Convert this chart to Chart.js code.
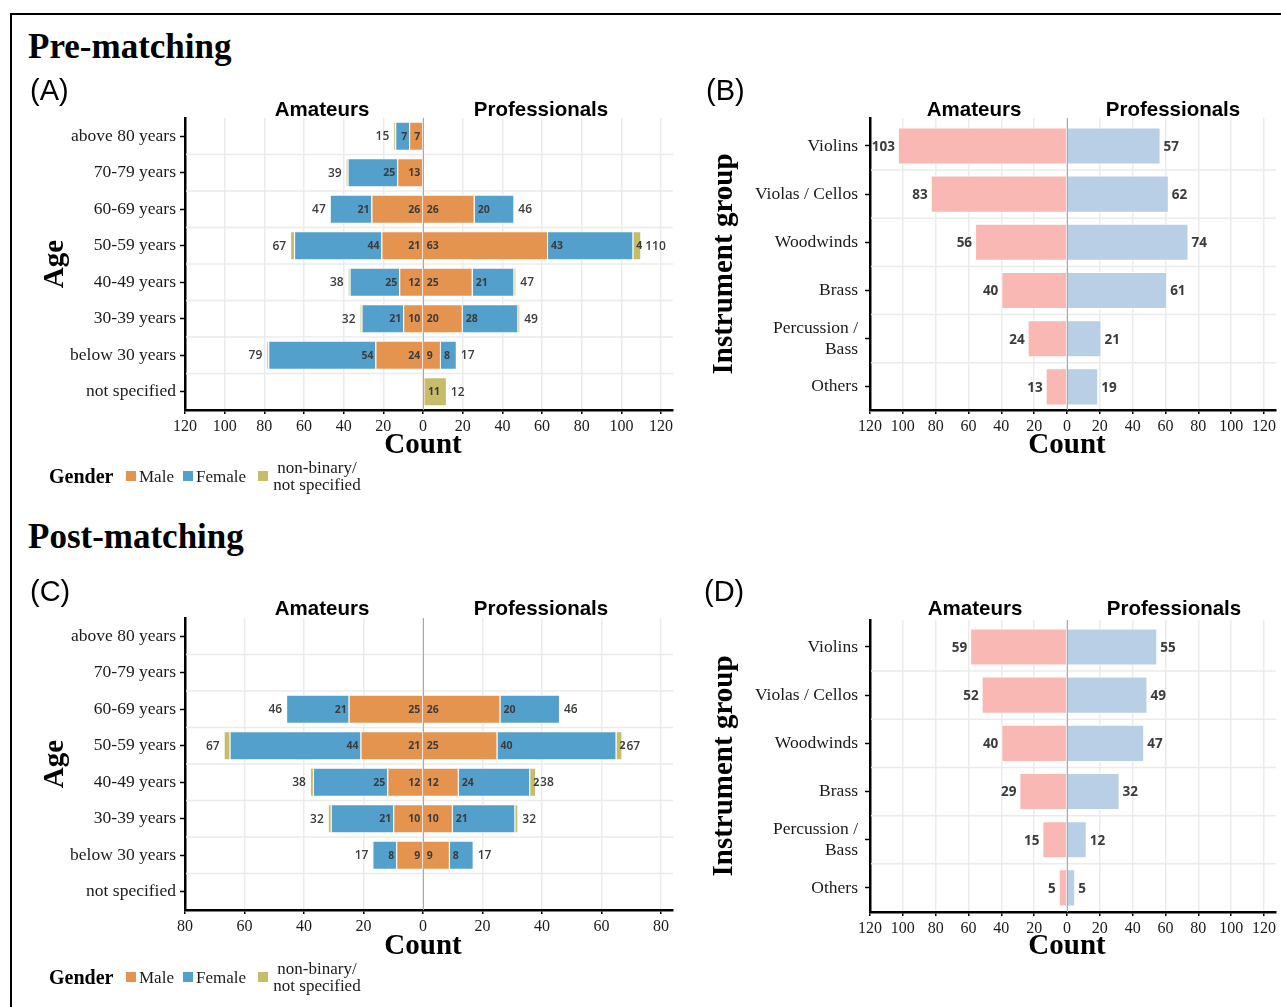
<!DOCTYPE html>
<html lang="en">
<head>
<meta charset="utf-8">
<title>Age and instrument group of amateurs and professionals, pre- and post-matching</title>
<script src="https://cdn.jsdelivr.net/npm/chart.js@4.4.1/dist/chart.umd.min.js"></script>
<style>
  html, body { margin: 0; padding: 0; background: #fff; }
  body { width: 1281px; height: 1007px; position: relative; overflow: hidden; }
  .frame { position: absolute; left: 10px; top: 13px; width: 1400px; height: 1100px;
           border-left: 2px solid #000; border-top: 2px solid #000; }
  .txt { position: absolute; white-space: nowrap; line-height: 1; z-index: 2; }
  .section { font: bold 35px "Liberation Serif", serif; color: #000; }
  .tag { font: 29px "Liberation Sans", sans-serif; color: #000; }
  .facet { font: bold 20.5px "Liberation Sans", sans-serif; color: #000; transform: translateX(-50%); }
  .legend-title { font: bold 20px "Liberation Serif", serif; color: #000; }
  .legend-item { font: 17px "Liberation Serif", serif; color: #1a1a1a; }
  .legend-multi { font: 17px/17px "Liberation Serif", serif; color: #1a1a1a; white-space: pre; text-align: center; width: 92px; }
  .swatch { position: absolute; width: 10px; height: 10px; z-index: 2; }
  canvas { position: absolute; z-index: 1; }
</style>
</head>
<body>
<div class="frame"></div>

<div class="txt section" style="left:28px; top:27px;">Pre-matching</div>
<div class="txt tag" style="left:30px; top:74px;">(A)</div>
<div class="txt tag" style="left:706px; top:74px;">(B)</div>
<div class="txt facet" style="left:322px; top:97px;">Amateurs</div>
<div class="txt facet" style="left:541px; top:97px;">Professionals</div>
<div class="txt facet" style="left:974px; top:97px;">Amateurs</div>
<div class="txt facet" style="left:1173px; top:97px;">Professionals</div>

<div class="txt section" style="left:28px; top:517px;">Post-matching</div>
<div class="txt tag" style="left:30px; top:575px;">(C)</div>
<div class="txt tag" style="left:704px; top:575px;">(D)</div>
<div class="txt facet" style="left:322px; top:596px;">Amateurs</div>
<div class="txt facet" style="left:541px; top:596px;">Professionals</div>
<div class="txt facet" style="left:975px; top:596px;">Amateurs</div>
<div class="txt facet" style="left:1174px; top:596px;">Professionals</div>

<canvas id="ageBefore" width="660" height="380" style="left:30px; top:100px;"></canvas>
<canvas id="instrBefore" width="591" height="380" style="left:690px; top:100px;"></canvas>
<canvas id="ageAfter" width="660" height="380" style="left:30px; top:600px;"></canvas>
<canvas id="instrAfter" width="591" height="380" style="left:690px; top:602px;"></canvas>

<div id="legendBefore"></div>
<div id="legendAfter"></div>

<script>
// ---------------- data ----------------
const ageGroups = ['above 80 years', '70-79 years', '60-69 years', '50-59 years',
                   '40-49 years', '30-39 years', 'below 30 years', 'not specified'];

// Pre-matching, by age group and gender
const preAmateurMale        = [7, 13, 26, 21, 12, 10, 24, 0];
const preAmateurFemale      = [7, 25, 21, 44, 25, 21, 54, 0];
const preAmateurOther       = [1, 1, 0, 2, 1, 1, 1, 0];
const preProfessionalMale   = [0, 0, 26, 63, 25, 20, 9, 1];
const preProfessionalFemale = [0, 0, 20, 43, 21, 28, 8, 0];
const preProfessionalOther  = [0, 0, 0, 4, 1, 1, 0, 11];

// Post-matching, by age group and gender
const postAmateurMale        = [0, 0, 25, 21, 12, 10, 9, 0];
const postAmateurFemale      = [0, 0, 21, 44, 25, 21, 8, 0];
const postAmateurOther       = [0, 0, 0, 2, 1, 1, 0, 0];
const postProfessionalMale   = [0, 0, 26, 25, 12, 10, 9, 0];
const postProfessionalFemale = [0, 0, 20, 40, 24, 21, 8, 0];
const postProfessionalOther  = [0, 0, 0, 2, 2, 1, 0, 0];

const instrumentGroups = ['Violins', 'Violas / Cellos', 'Woodwinds', 'Brass', ['Percussion /', 'Bass'], 'Others'];
const preAmateurInstruments      = [103, 83, 56, 40, 24, 13];
const preProfessionalInstruments = [57, 62, 74, 61, 21, 19];
const postAmateurInstruments      = [59, 52, 40, 29, 15, 5];
const postProfessionalInstruments = [55, 49, 47, 32, 12, 5];

// count axis tick values (left side negative = amateurs)
const countTicksWide   = [-120, -100, -80, -60, -40, -20, 0, 20, 40, 60, 80, 100, 120];
const countTicksNarrow = [-80, -60, -40, -20, 0, 20, 40, 60, 80];

// ---------------- styling ----------------
const SERIF = '"Liberation Serif", "Times New Roman", serif';
const LABEL = '"Open Sans", "DejaVu Sans", sans-serif';
const genderColours = { male: '#E5944F', female: '#54A0CC', other: '#C6BD6A' };
const groupColours = { amateur: '#F9B8B3', professional: '#B8CFE6' };
const LABEL_INK = '#3b3b3b';

Chart.defaults.animation = false;
Chart.defaults.color = '#1a1a1a';

const negate = a => a.map(v => -v);
const addUp = (...arrs) => arrs[0].map((_, i) => arrs.reduce((s, a) => s + a[i], 0));

// Category separators, zero line, value labels and the centred "Count" title
function decorations(mode, totals, countY) {
  return {
    id: 'decor',
    beforeDatasetsDraw(chart) {
      const { ctx, chartArea: a, scales: { y } } = chart;
      ctx.save();
      ctx.strokeStyle = '#ebebeb';
      ctx.lineWidth = 1.5;
      for (let i = 1; i < y.ticks.length; i++) {
        const py = (y.getPixelForValue(i - 1) + y.getPixelForValue(i)) / 2;
        ctx.beginPath();
        ctx.moveTo(a.left + 1, py);
        ctx.lineTo(a.right, py);
        ctx.stroke();
      }
      ctx.restore();
    },
    afterDatasetsDraw(chart) {
      const { ctx, chartArea: a, scales: { x, y } } = chart;
      ctx.save();
      const x0 = Math.round(x.getPixelForValue(0)) + 0.5;
      ctx.strokeStyle = '#a8a8a8';
      ctx.lineWidth = 1;
      ctx.beginPath();
      ctx.moveTo(x0, a.top);
      ctx.lineTo(x0, a.bottom);
      ctx.stroke();

      ctx.fillStyle = LABEL_INK;
      ctx.textBaseline = 'middle';
      chart.data.datasets.forEach((ds, di) => {
        const meta = chart.getDatasetMeta(di);
        meta.data.forEach((el, i) => {
          const v = Math.abs(ds.data[i]);
          const p = el.getProps(['x', 'y', 'base'], true);
          if (mode === 'age') {
            if (!ds.segLabel || v < 2) return;
            ctx.font = '700 10.5px ' + LABEL;
            if (ds.side === 'am') { ctx.textAlign = 'right'; ctx.fillText(String(v), p.base - 2, p.y + 0.5); }
            else { ctx.textAlign = 'left'; ctx.fillText(String(v), p.base + 3, p.y + 0.5); }
          } else {
            if (v <= 0) return;
            ctx.font = '700 13.5px ' + LABEL;
            if (ds.side === 'am') { ctx.textAlign = 'right'; ctx.fillText(String(v), p.x - 3, p.y + 1); }
            else { ctx.textAlign = 'left'; ctx.fillText(String(v), p.x + 3, p.y + 1); }
          }
        });
      });

      if (totals) {
        ctx.font = '600 12px ' + LABEL;
        totals.am.forEach((t, i) => {
          if (!t) return;
          ctx.textAlign = 'right';
          ctx.fillText(String(t), x.getPixelForValue(-t) - 4, y.getPixelForValue(i) + 0.5);
        });
        totals.pro.forEach((t, i) => {
          if (!t) return;
          ctx.textAlign = 'left';
          ctx.fillText(String(t), x.getPixelForValue(t) + 4, y.getPixelForValue(i) + 0.5);
        });
      }
      ctx.restore();
    },
    afterDraw(chart) {
      const { ctx, scales: { x } } = chart;
      ctx.save();
      ctx.font = 'bold 29px ' + SERIF;
      ctx.fillStyle = '#000';
      ctx.textAlign = 'center';
      ctx.textBaseline = 'middle';
      ctx.fillText('Count', x.getPixelForValue(0), countY);
      ctx.restore();
    }
  };
}

function axes(o) {
  return {
    x: {
      type: 'linear', stacked: true, min: o.min, max: o.max,
      afterBuildTicks(s) { s.ticks = o.ticks.map(v => ({ value: v })); },
      grid: { color: '#ebebeb', lineWidth: 1.5, drawOnChartArea: true, drawTicks: true,
              tickLength: 4, tickWidth: 1.5, tickColor: '#000' },
      border: { display: true, color: '#000', width: 2.5 },
      ticks: { font: { family: SERIF, size: 16 }, color: '#1a1a1a', padding: 3,
               autoSkip: false, maxRotation: 0, callback: v => Math.abs(v) },
      title: { display: false },
      afterFit(s) { s.height = o.xHeight; }
    },
    y: {
      type: 'category', stacked: true, offset: true,
      afterBuildTicks(s) {
        // slightly larger expansion above the first category
        if (o.catStart !== undefined) { s._startValue = o.catStart; s._valueRange = o.catRange; }
      },
      grid: { display: true, offset: false, drawOnChartArea: false, drawTicks: true,
              tickLength: 5, tickWidth: 1.5, tickColor: '#000' },
      border: { display: true, color: '#000', width: 2.5 },
      ticks: { font: { family: SERIF, size: 17.5 }, color: '#1a1a1a', padding: o.labelPad, autoSkip: false },
      title: { display: true, text: o.yTitle, color: '#000',
               font: { family: SERIF, size: 29, weight: 'bold' }, padding: { top: o.yTitlePad, bottom: 0 } },
      afterFit(s) { s.width = o.yWidth; }
    }
  };
}

function commonOptions(o) {
  return {
    indexAxis: 'y',
    responsive: false,
    devicePixelRatio: 1,
    layout: { padding: { left: 0, top: 18, right: o.padRight, bottom: 0 } },
    plugins: { legend: { display: false }, tooltip: { enabled: false } },
    scales: axes(o)
  };
}

function ageChart(id, am, pro, o) {
  const bar = { borderColor: '#fff', borderWidth: 1, borderSkipped: 'start',
                barPercentage: 0.8, categoryPercentage: 1 };
  const datasets = [
    { label: 'Male', data: negate(am.male), backgroundColor: genderColours.male, side: 'am', segLabel: true },
    { label: 'Female', data: negate(am.female), backgroundColor: genderColours.female, side: 'am', segLabel: true },
    { label: 'non-binary/not specified', data: negate(am.other), backgroundColor: genderColours.other, side: 'am', segLabel: false },
    { label: 'Male', data: pro.male, backgroundColor: genderColours.male, side: 'pro', segLabel: true },
    { label: 'Female', data: pro.female, backgroundColor: genderColours.female, side: 'pro', segLabel: true },
    { label: 'non-binary/not specified', data: pro.other, backgroundColor: genderColours.other, side: 'pro', segLabel: true }
  ].map(d => Object.assign({}, bar, d));
  const totals = { am: addUp(am.male, am.female, am.other), pro: addUp(pro.male, pro.female, pro.other) };
  return new Chart(document.getElementById(id), {
    type: 'bar',
    data: { labels: ageGroups, datasets },
    options: commonOptions(o),
    plugins: [decorations('age', totals, o.countY)]
  });
}

function instrumentChart(id, am, pro, o) {
  const bar = { borderColor: '#fff', borderWidth: 1, borderSkipped: 'start',
                barPercentage: 0.77, categoryPercentage: 1 };
  const datasets = [
    { label: 'Amateurs', data: negate(am), backgroundColor: groupColours.amateur, side: 'am' },
    { label: 'Professionals', data: pro, backgroundColor: groupColours.professional, side: 'pro' }
  ].map(d => Object.assign({}, bar, d));
  return new Chart(document.getElementById(id), {
    type: 'bar',
    data: { labels: instrumentGroups, datasets },
    options: commonOptions(o),
    plugins: [decorations('instrument', null, o.countY)]
  });
}

ageChart('ageBefore',
  { male: preAmateurMale, female: preAmateurFemale, other: preAmateurOther },
  { male: preProfessionalMale, female: preProfessionalFemale, other: preProfessionalOther },
  { min: -120, max: 126, ticks: countTicksWide, yTitle: 'Age', yTitlePad: 8, yWidth: 155,
    labelPad: 4, padRight: 17, xHeight: 70, countY: 346 });

instrumentChart('instrBefore', preAmateurInstruments, preProfessionalInstruments,
  { min: -120, max: 127.3, ticks: countTicksWide, yTitle: 'Instrument group', yTitlePad: 17.5, yWidth: 180,
    labelPad: 7, padRight: 5, xHeight: 70, countY: 346, catStart: -0.58, catRange: 6.06 });

ageChart('ageAfter',
  { male: postAmateurMale, female: postAmateurFemale, other: postAmateurOther },
  { male: postProfessionalMale, female: postProfessionalFemale, other: postProfessionalOther },
  { min: -80, max: 84, ticks: countTicksNarrow, yTitle: 'Age', yTitlePad: 8, yWidth: 155,
    labelPad: 4, padRight: 17, xHeight: 70, countY: 347 });

instrumentChart('instrAfter', postAmateurInstruments, postProfessionalInstruments,
  { min: -120, max: 127.3, ticks: countTicksWide, yTitle: 'Instrument group', yTitlePad: 17.5, yWidth: 180,
    labelPad: 7, padRight: 5, xHeight: 70, countY: 345, catStart: -0.56, catRange: 6.06 });

// Gender legend below each age pyramid
function genderLegend(holderId, dy) {
  const holder = document.getElementById(holderId);
  const parts = [
    `<div class="txt legend-title" style="left:49px; top:${465 + dy}px;">Gender</div>`,
    `<div class="swatch" style="left:126px; top:${471 + dy}px; background:${genderColours.male};"></div>`,
    `<div class="txt legend-item" style="left:139px; top:${467 + dy}px;">Male</div>`,
    `<div class="swatch" style="left:183px; top:${471 + dy}px; background:${genderColours.female};"></div>`,
    `<div class="txt legend-item" style="left:196px; top:${467 + dy}px;">Female</div>`,
    `<div class="swatch" style="left:258px; top:${471 + dy}px; background:${genderColours.other};"></div>`,
    `<div class="txt legend-multi" style="left:271px; top:${459 + dy}px;">non-binary/\nnot specified</div>`
  ];
  holder.innerHTML = parts.join('');
}
genderLegend('legendBefore', 0);
genderLegend('legendAfter', 501);
</script>
</body>
</html>
